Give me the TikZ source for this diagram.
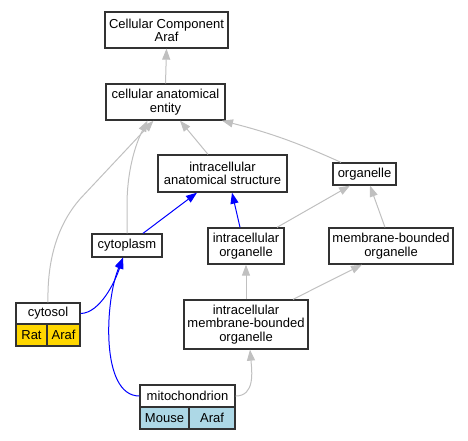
\documentclass[tikz,border=0pt]{standalone}
\usepackage{fontspec}
\setmainfont{Liberation Sans}
\usetikzlibrary{arrows.meta}
\definecolor{edgegray}{RGB}{192,192,192}
\definecolor{boxline}{RGB}{50,50,50}
\definecolor{gold}{RGB}{255,215,0}
\definecolor{lblue}{RGB}{173,216,230}
\tikzset{
  box/.style={draw=boxline, line width=1.3pt, fill=white, inner sep=0pt, align=center,
    font=\fontsize{13}{13.3}\selectfont},
  isa/.style={draw=edgegray, line width=1pt, -{Triangle[length=11pt,width=8pt]}},
  partof/.style={draw=blue, line width=1pt, -{Triangle[length=11pt,width=8pt]}},
}
\begin{document}
\begin{tikzpicture}[x=1pt,y=-1pt]
\useasboundingbox (0,0) rectangle (468,440);
% nodes
\node[box, minimum width=123pt, minimum height=36pt] (cc) at (166.5,30) {Cellular Component\\Araf};
\node[box, minimum width=119pt, minimum height=36pt] (cae) at (165.5,102) {cellular anatomical\\entity};
\node[box, minimum width=129pt, minimum height=37pt] (ias) at (222.5,173.5) {intracellular\\anatomical structure};
\node[box, minimum width=63pt, minimum height=22pt] (org) at (364.5,174) {organelle};
\node[box, minimum width=70pt, minimum height=23pt] (cyto) at (127,245.5) {cytoplasm};
\node[box, minimum width=76pt, minimum height=36pt] (io) at (246,246) {intracellular\\organelle};
\node[box, minimum width=124pt, minimum height=36pt] (mbo) at (391,246) {membrane-bounded\\organelle};
\node[box, minimum width=124pt, minimum height=49pt] (imbo) at (246,324.5) {intracellular\\membrane-bounded\\organelle};
% cytosol
\node[box, minimum width=64pt, minimum height=21pt] (cytosol) at (48,313.5) {cytosol};
\node[box, fill=gold, minimum width=31pt, minimum height=22pt] (rat) at (31.5,335) {Rat};
\node[box, fill=gold, minimum width=33pt, minimum height=22pt] (araf1) at (63.5,335) {Araf};
% mitochondrion
\node[box, minimum width=95pt, minimum height=22pt] (mito) at (187.5,396) {mitochondrion};
\node[box, fill=lblue, minimum width=49pt, minimum height=22pt] (mouse) at (164.5,418) {Mouse};
\node[box, fill=lblue, minimum width=46pt, minimum height=22pt] (araf2) at (212,418) {Araf};
% edges
\draw[isa] (cae.north) -- (cc.south);
\draw[isa] ([xshift=-14.5pt]ias.north) -- ([xshift=14.5pt]cae.south);
\draw[isa] ([xshift=-23.5pt]org.north) to[bend right=5] ([xshift=56.5pt]cae.south);
\draw[isa] (cytosol.north) .. controls (47,255) and (60,222) .. (80,199) -- ([xshift=-12pt]cae.south);
\draw[isa] (cyto.north) -- (127,205) .. controls (127,172) and (135,145) .. ([xshift=-18pt]cae.south);
\draw[partof] ([xshift=16pt]cyto.north) -- ([xshift=-25.5pt]ias.south);
\draw[partof] ([xshift=-6pt]io.north) -- ([xshift=9.5pt]ias.south);
\draw[isa] ([xshift=31pt]io.north) -- ([xshift=-14.5pt]org.south);
\draw[isa] ([xshift=-6pt]mbo.north) -- ([xshift=5.5pt]org.south);
\draw[isa] (imbo.north) -- (io.south);
\draw[isa] ([xshift=47pt]imbo.north) -- ([xshift=-29pt]mbo.south);
\draw[partof] (cytosol.east) .. controls (100,313) and (115,282) .. ([xshift=-4pt]cyto.south);
\draw[partof] (mito.west) .. controls (100,396) and (105,300) .. ([xshift=-4pt]cyto.south);
\draw[isa] (mito.east) .. controls (255,396) and (252,372) .. ([xshift=4pt]imbo.south);
\end{tikzpicture}
\end{document}
